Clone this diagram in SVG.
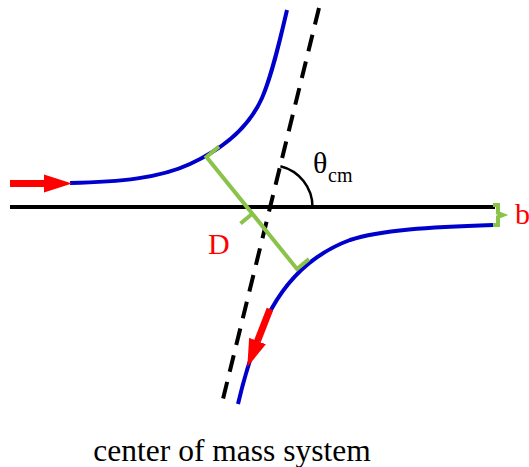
<svg xmlns="http://www.w3.org/2000/svg" width="529" height="467" viewBox="0 0 529 467">
<style>
.traj{fill:none;stroke:#0000cc;stroke-width:4}
.shaft{fill:none;stroke:#ff0000;stroke-width:7}
.green{fill:none;stroke:#8bc34a;stroke-width:4;stroke-linejoin:miter}
.axis{fill:none;stroke:#000;stroke-width:4}
.dash{fill:none;stroke:#000;stroke-width:4;stroke-dasharray:17 10.5}
.arc{fill:none;stroke:#000;stroke-width:2.5}
.red{fill:#ff0000}
</style>
<defs>
<marker id="head" markerUnits="userSpaceOnUse" markerWidth="30" markerHeight="20" refX="0" refY="9.5" orient="auto" viewBox="0 0 30 20">
<path d="M0,0.5 L28,9.5 L0,18.5 Z" fill="#ff0000"/>
</marker>
</defs>
<g id="axes">
<line class="axis" x1="10" y1="207" x2="495" y2="207"/>
<line class="dash" x1="319" y1="8" x2="222" y2="403"/>
<path class="arc" d="M312.5,207 A42,42 0 0 0 280.4,166.2"/>
</g>
<g id="trajectories">
<path id="incoming" class="traj" d="M70,183 C120,182 160,178 190,164 C225,148 250,125 262,98 C272,75 280,40 287,10"/>
<path id="outgoing" class="traj" d="M238,404 C246,370 256,337 272,308 C290,276 315,253 350,240 C380,230 430,227 493,225"/>
</g>
<g id="arrows">
<line class="shaft" x1="10" y1="183.5" x2="44" y2="183.5" marker-end="url(#head)"/>
<line class="shaft" x1="270" y1="309" x2="257.5" y2="341" marker-end="url(#head)"/>
</g>
<g id="distance-D">
<path class="green" d="M219,146.5 L206.5,157 L297,269 L309,259"/>
<line class="green" x1="252" y1="214" x2="240.5" y2="223.5"/>
<path class="green" d="M493,205 H498 V213 L503,215 L498,217 V225 H493"/>
</g>
<g id="labels" font-family="'Liberation Serif', 'DejaVu Serif', serif" font-size="30">
<text x="313" y="173">θ</text>
<text x="328" y="182" font-size="20">cm</text>
<text class="red" x="208" y="254">D</text>
<text class="red" x="515" y="224">b</text>
<text x="232" y="461" text-anchor="middle" font-size="31.5">center of mass system</text>
</g>
</svg>
